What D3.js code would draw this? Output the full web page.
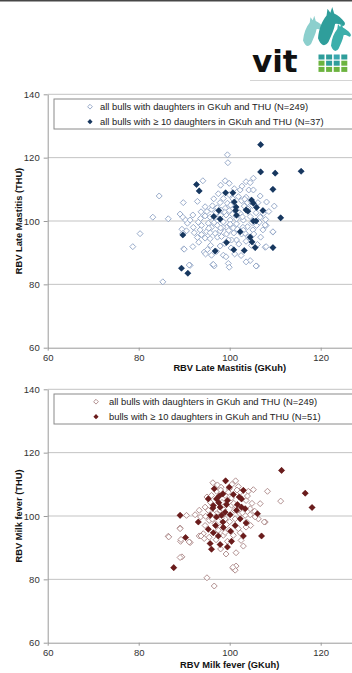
<!DOCTYPE html>
<html>
<head>
<meta charset="utf-8">
<script src="https://cdn.jsdelivr.net/npm/d3@7"></script>
<style>
  body { margin: 0; background: #fff; }
  svg { display: block; }
  text { font-family: "Liberation Sans", Arial, sans-serif; }
</style>
</head>
<body>
<div id="chart"></div>
<script>
// --- data: [x = RBV GKuh, y = RBV THU] ---
const yTicks = [60, 80, 100, 120, 140];
const xTicks = [60, 80, 100, 120];

const mastitisAll = [
  [99.5,120.9],[99.6,118.4],[84.5,107.9],[83.1,101.2],[86.5,100.7],[80.3,96.0],[78.7,91.9],[85.3,80.8],
  [89.8,105.8],[94.1,112.7],[91.9,101.9],[89.1,102.2],[89.7,101.2],[90.3,100.3],[89.5,97.4],[90.5,96.9],
  [89.9,91.2],[91.9,91.9],[91.3,86.0],[92.9,106.2],[94.6,104.5],[93.7,102.9],[93.1,99.6],[93.8,98.6],
  [93.8,95.7],[94.6,94.6],[95.7,94.4],[95.8,92.3],[94.4,90.2],[94.7,89.6],[96.3,86.2],[96.6,85.8],
  [98.0,111.3],[99.0,112.7],[99.9,111.9],[97.9,105.8],[98.6,107.1],[97.3,104.2],[96.0,103.7],[99.5,105.6],
  [102.3,109.8],[103.6,112.4],[105.2,113.5],[104.5,112.1],[106.7,107.9],[108.1,106.0],[109.8,104.7],[103.6,107.5],
  [102.6,106.4],[99.9,103.3],[99.2,101.9],[98.6,99.7],[100.1,100.3],[101.5,99.1],[103.0,100.3],[103.9,98.2],
  [106.7,101.2],[108.0,98.6],[107.3,97.2],[109.5,96.5],[106.8,94.9],[107.8,91.7],[105.9,85.8],[104.5,87.5],
  [103.6,87.1],[99.7,86.6],[99.9,85.4],[98.6,89.2],[99.2,88.7],[97.9,92.1],[97.3,94.9],[101.5,94.0],
  [102.0,92.7],[102.6,95.9],[100.8,97.8],[96.0,98.0],[95.3,99.3],[94.9,96.6],[96.8,96.1],[97.9,96.9],
  [99.3,98.0],[99.3,95.9],[100.4,94.0],[103.6,93.6],[105.1,97.2],[105.9,98.6],[104.5,101.4],[102.3,102.4],
  [101.2,104.5],[101.9,107.7],[100.7,107.0],[99.9,108.3],[104.2,109.8],[105.2,109.8],[93.6,100.8],[94.6,101.6],
  [95.7,101.2],[96.6,99.5],[97.3,100.3],[98.0,101.8],[99.0,104.0],[103.2,104.7],[103.9,105.8],[105.8,102.6],
  [107.4,102.4],[97.3,98.6],[98.5,98.0],[100.1,99.0],[101.5,100.7],[102.9,98.0],[103.4,96.1],[98.2,95.1],
  [99.7,94.0],[95.7,96.3],[93.5,97.2],[92.9,94.8],[92.0,98.0],[91.3,100.3],[90.7,99.3],[89.7,96.1],
  [90.0,91.1],[91.1,86.1],[96.4,86.3],[105.8,85.8],[109.5,96.6],[108.0,91.9],[107.8,98.7],
  [96.2,104.8],[97.0,102.6],[98.8,102.9],[100.6,102.1],[101.8,103.0],[102.8,101.3],[104.0,103.8],[105.0,104.9],
  [106.2,105.8],[100.2,105.0],[98.1,103.4],[95.0,103.0],[96.5,107.0],[97.5,108.6],[101.0,110.2],[102.7,111.0],
  [103.3,106.9],[104.7,106.2],[100.9,96.2],[101.7,97.4],[104.1,95.0],[105.3,95.9],[106.1,92.6],[104.8,92.3],
  [98.9,92.9],[97.1,90.4],[96.0,89.2],[100.3,91.5],[101.1,89.6],[102.5,89.1],[93.2,93.3],[92.2,96.3],
  [95.1,91.0],[106.5,99.6],[107.9,100.5],[108.6,103.0],[104.9,99.5],[103.0,97.1],[99.8,97.0],[98.0,97.8],
  [96.8,101.1],[95.4,97.7]
];

const mastitisTen = [
  [106.8,124.1],[106.8,115.5],[110.0,115.1],[115.7,115.7],[92.7,111.5],[93.3,109.5],[99.1,108.9],[100.7,108.9],
  [109.5,110.0],[101.0,106.0],[104.8,106.6],[105.2,105.6],[105.9,104.3],[107.3,103.3],[103.6,103.5],[104.0,103.1],
  [97.6,103.3],[101.3,103.3],[101.5,101.8],[96.5,101.4],[97.9,100.6],[105.2,100.0],[105.8,100.0],[111.2,101.0],
  [89.7,95.6],[102.3,96.6],[104.5,94.9],[104.9,93.4],[99.3,93.2],[105.6,91.6],[109.5,91.6],[96.8,90.5],
  [100.9,90.9],[103.2,90.7],[89.4,85.1],[90.8,83.5],[101.4,104.4]
];

const milkAll = [
  [111.2,104.7],[108.3,107.8],[105.2,108.3],[104.1,107.8],[106.7,103.9],[106.3,99.1],[107.8,98.1],[101.3,111.1],
  [101.9,109.3],[96.3,110.5],[98.1,109.1],[99.9,108.6],[95.0,106.0],[93.3,101.8],[90.5,100.2],[92.4,100.4],
  [93.6,99.7],[89.1,96.2],[86.5,93.6],[89.2,92.0],[91.3,91.6],[93.3,93.7],[94.2,94.4],[94.4,92.9],
  [89.5,87.1],[95.0,80.5],[96.6,77.9],[99.2,88.0],[101.4,88.4],[100.8,83.4],[101.4,84.2],[101.2,82.9],
  [103.0,90.5],[102.3,94.7],[103.6,96.5],[103.7,98.1],[104.5,102.3],[105.6,99.7],[104.5,100.4],[99.3,97.3],
  [97.9,96.5],[96.8,97.6],[99.9,95.5],[100.8,93.9],[98.6,93.9],[95.5,98.6],[94.6,97.0],[93.7,93.7],
  [97.9,101.8],[100.4,103.4],[101.0,101.8],[102.3,107.5],[103.6,104.9],[100.4,105.7],[97.1,107.8],[95.7,104.4],
  [94.6,102.8],[99.0,99.1],[101.2,99.1],[102.3,100.7],[103.4,100.2],[99.0,106.5],[99.7,107.5],[97.1,100.7],
  [96.3,100.7],[95.3,101.8],[97.5,95.5],[99.5,92.0],[89.1,86.9],[91.1,91.8],[89.3,92.6],[89.1,96.0],
  [86.6,93.4],[107.6,98.1],[100.7,83.8],
  [98.3,104.3],[100.9,104.0],[102.0,103.2],[98.0,108.2],[96.0,106.5],[97.3,109.8],[100.5,110.0],[102.8,101.0],
  [104.9,104.0],[98.7,102.0],[100.0,98.2],[101.9,96.0],[98.2,99.3],[96.2,99.0],[94.7,99.9],[97.0,92.5],
  [98.0,89.6],[95.5,93.3],[99.0,94.8],[102.5,92.3],[104.6,97.0],[105.5,101.5],[103.9,106.3],[101.6,108.2]
];

const milkTen = [
  [111.4,114.4],[116.6,107.2],[118.1,102.7],[99.1,111.1],[96.6,108.6],[98.5,107.0],[97.7,106.3],[97.1,105.4],
  [96.4,103.3],[96.3,102.5],[99.5,104.9],[99.3,103.6],[102.1,106.0],[102.6,105.4],[103.0,108.1],[101.7,103.6],
  [102.6,102.8],[103.4,102.3],[89.1,100.2],[93.1,98.1],[97.1,99.7],[98.2,100.2],[99.0,101.2],[100.1,100.4],
  [102.3,99.1],[103.6,97.8],[106.1,100.7],[95.3,95.8],[96.4,94.7],[97.5,93.7],[100.2,95.2],[103.0,93.7],
  [107.0,93.7],[90.3,93.2],[95.7,91.3],[96.0,89.5],[97.9,91.0],[99.5,90.2],[100.4,92.0],[87.7,83.7],
  [95.7,100.2],[98.5,98.1],[101.5,101.8],[99.9,109.1],[95.3,105.4],[97.9,102.8],[97.6,104.2],[100.8,106.8],
  [98.6,96.4],[101.2,97.0],[96.9,97.0]
];

const W = 352, H = 673;
const svg = d3.select('#chart').append('svg').attr('width', W).attr('height', H);

// header bar + logo
svg.append('rect').attr('x', 0).attr('y', 0).attr('width', W).attr('height', 1.5).attr('fill', '#474747');
svg.append('line').attr('x1', 250).attr('x2', W).attr('y1', 80.5).attr('y2', 80.5)
  .attr('stroke', '#d4d4d4').attr('stroke-width', 1);

const logo = svg.append('g').attr('class', 'logo');
logo.append('text').attr('x', 252).attr('y', 72)
  .style('font-family', '"DejaVu Sans", sans-serif').style('font-weight', 'bold')
  .style('font-size', '31px').attr('fill', '#111').text('vit');

// horse heads (rough)
const horse = 'M0,34 C1,24 4,16 9,10 L10,3 L13,7 L15,1 L17,8 C21,10 25,13 28,17 C29,19 28,21 26,21 C23,19 20,18 18,19 C17,25 14,31 11,38 C8,42 4,44 0,34 Z';
[
  { t: 'translate(303,15) scale(0.75)', c: '#8ccfcd' },
  { t: 'translate(318,6) scale(0.95)', c: '#2f9e9b' },
  { t: 'translate(331,22) scale(0.7)', c: '#3cafab' }
].forEach(h => logo.append('path').attr('d', horse).attr('transform', h.t).attr('fill', h.c));

const squares = [
  ['#2f9e9b', '#2f9e9b', '#3aa8b0', '#2f9e9b'],
  ['#6cb33f', '#2f9e9b', '#2f9e9b', '#6cb33f'],
  ['#6cb33f', '#6cb33f', '#6cb33f', '#6cb33f']
];
squares.forEach((row, r) => row.forEach((c, k) => {
  logo.append('rect').attr('x', 318.5 + k * 7.6).attr('y', 54.5 + r * 6.2)
    .attr('width', 6).attr('height', 5).attr('fill', c);
}));

const diamond = r => `M0,${-r}L${r},0L0,${r}L${-r},0Z`;

function drawPanel(cfg) {
  const x = d3.scaleLinear().domain([60, 140]).range([47.7, 411.7]);
  const y = d3.scaleLinear().domain([60, 140]).range([cfg.bottom, cfg.bottom - 253.4]);
  const g = svg.append('g');

  // grid
  g.selectAll('.grid').data(yTicks.slice(1)).enter().append('line')
    .attr('x1', x(60)).attr('x2', x(140))
    .attr('y1', d => y(d)).attr('y2', d => y(d))
    .attr('stroke', '#c3c3c3').attr('stroke-width', 1);

  const yAxis = g.append('g').attr('transform', `translate(${x(60)},0)`)
    .call(d3.axisLeft(y).tickValues(yTicks).tickSize(4).tickSizeOuter(0).tickPadding(4));
  const xAxis = g.append('g').attr('transform', `translate(0,${y(60)})`)
    .call(d3.axisBottom(x).tickValues(xTicks).tickSize(3).tickSizeOuter(0).tickPadding(4));
  [yAxis, xAxis].forEach(a => {
    a.select('.domain').attr('stroke', '#9a9a9a');
    a.selectAll('.tick line').attr('stroke', '#9a9a9a');
    a.selectAll('.tick text').attr('fill', '#333').style('font-size', '9.5px')
      .style('font-family', '"Liberation Sans", Arial, sans-serif');
  });

  // axis titles
  g.append('text').attr('x', x(100)).attr('y', y(60) + cfg.xTitleOff)
    .attr('text-anchor', 'middle').style('font-size', '9.3px').style('font-weight', 'bold')
    .attr('fill', '#111').text(cfg.xTitle);
  g.append('text').attr('transform', `translate(22,${y(100)}) rotate(-90)`)
    .attr('text-anchor', 'middle').style('font-size', '9.3px').style('font-weight', 'bold')
    .attr('fill', '#111').text(cfg.yTitle);

  // points: all bulls (open), then bulls with >= 10 daughters (filled)
  g.selectAll('.all').data(cfg.all.concat(cfg.ten)).enter().append('path')
    .attr('d', diamond(3))
    .attr('transform', d => `translate(${x(d[0])},${y(d[1])})`)
    .attr('fill', '#fff').attr('stroke', cfg.openColor).attr('stroke-width', 0.9);
  g.selectAll('.ten').data(cfg.ten).enter().append('path')
    .attr('d', diamond(3.3))
    .attr('transform', d => `translate(${x(d[0])},${y(d[1])})`)
    .attr('fill', cfg.fillColor);

  // legend
  const lg = g.append('g').attr('transform', `translate(54,${y(140) + 4.7})`);
  lg.append('rect').attr('width', 330).attr('height', 30)
    .attr('fill', '#fff').attr('stroke', '#8a8a8a').attr('stroke-width', 1);
  const rows = [
    { label: cfg.legend[0], filled: false },
    { label: cfg.legend[1], filled: true }
  ];
  rows.forEach((r, i) => {
    const ry = 7.7 + i * 15;
    lg.append('path').attr('d', diamond(r.filled ? 2.6 : 2.4))
      .attr('transform', `translate(${cfg.legendMarkX},${ry})`)
      .attr('fill', r.filled ? cfg.fillColor : '#fff')
      .attr('stroke', r.filled ? 'none' : cfg.openColor).attr('stroke-width', 0.9);
    lg.append('text').attr('x', cfg.legendTextX).attr('y', ry + 3.3)
      .style('font-size', '9.4px').attr('fill', '#222').text(r.label);
  });
}

drawPanel({
  bottom: 347.7,
  all: mastitisAll, ten: mastitisTen,
  openColor: '#8fa3c4', fillColor: '#17375e',
  xTitle: 'RBV Late Mastitis (GKuh)', yTitle: 'RBV Late Mastitis (THU)', xTitleOff: 23.5,
  legend: ['all bulls with daughters in GKuh and THU (N=249)', 'all bulls with \u2265 10 daughters in GKuh and THU (N=37)'],
  legendMarkX: 36, legendTextX: 46
});

drawPanel({
  bottom: 642.7,
  all: milkAll, ten: milkTen,
  openColor: '#a98484', fillColor: '#6a1c1c',
  xTitle: 'RBV Milk fever (GKuh)', yTitle: 'RBV Milk fever (THU)', xTitleOff: 25,
  legend: ['all bulls with daughters in GKuh and THU (N=249)', 'bulls with \u2265 10 daughters in GKuh and THU (N=51)'],
  legendMarkX: 42, legendTextX: 55
});
</script>
</body>
</html>
